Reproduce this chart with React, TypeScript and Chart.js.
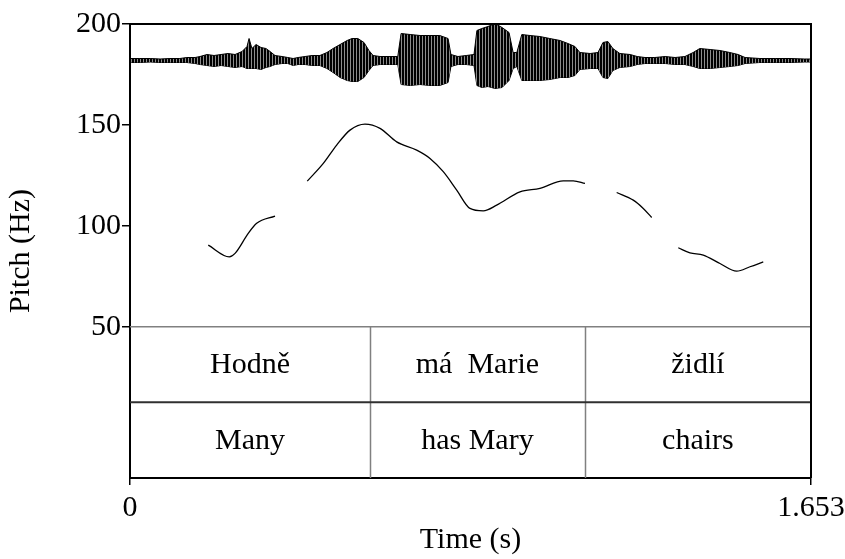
import React, { useEffect, useRef } from 'react';
import { Chart, registerables } from 'chart.js';

Chart.register(...registerables);

// ---- data ----
const TIME_MAX = 1.653;
const yTickValues = [50, 100, 150, 200];
const xTickValues = [0, 1.653];
const xTickLabels = ['0', '1.653'];
const tierBoundaries = [0.5825, 1.104];
const tier1Labels = ['Hodně', 'má  Marie', 'židlí'];
const tier2Labels = ['Many', 'has Mary', 'chairs'];

// pitch contour (s, Hz); null = unvoiced gap
const pitchTimes = [
  0.190, 0.241, 0.255, 0.287, 0.3075, 0.352,
  0.39,
  0.4303, 0.4692, 0.5017, 0.534, 0.5704, 0.6068, 0.6473, 0.6959, 0.7282, 0.7604, 0.793, 0.8252, 0.8575, 0.89, 0.9466, 0.9951, 1.0517, 1.076, 1.1044,
  1.14,
  1.1813, 1.2216, 1.2459, 1.2663,
  1.30,
  1.3308, 1.3592, 1.3915, 1.432, 1.4726, 1.5049, 1.5371,
];
const pitchHz: (number | null)[] = [
  90.4, 84.6, 86.3, 96.2, 101.2, 104.8,
  null,
  122.1, 130.9, 140.0, 147.4, 150.4, 148.3, 141.6, 137.5, 133.4, 126.8, 117.7, 108.6, 107.4, 110.2, 116.8, 118.5, 122.3, 122.3, 121.0,
  null,
  116.5, 112.7, 108.6, 104.1,
  null,
  89.1, 86.6, 85.5, 81.3, 77.5, 79.7, 82.1,
];

// waveform envelope (s, relative amplitude above / below zero)
const waveTimes = [
  0, 0.024, 0.049, 0.073, 0.097, 0.121, 0.138, 0.158, 0.170, 0.187,
  0.204, 0.221, 0.238, 0.255, 0.272, 0.284, 0.289, 0.296, 0.306, 0.318,
  0.330, 0.340, 0.352, 0.369, 0.383, 0.396, 0.408, 0.425, 0.442, 0.461,
  0.478, 0.493, 0.510, 0.527, 0.539, 0.553, 0.568, 0.580, 0.590, 0.607,
  0.631, 0.650, 0.658, 0.680, 0.704, 0.728, 0.752, 0.772, 0.779, 0.796,
  0.816, 0.835, 0.842, 0.854, 0.869, 0.886, 0.903, 0.920, 0.930, 0.939,
  0.951, 0.971, 0.995, 1.019, 1.044, 1.063, 1.080, 1.092, 1.117, 1.136,
  1.148, 1.160, 1.172, 1.189, 1.214, 1.231, 1.250, 1.274, 1.299, 1.323,
  1.347, 1.367, 1.383, 1.408, 1.432, 1.456, 1.476, 1.493, 1.529, 1.566,
  1.602, 1.638, 1.653,
];
const waveUpper = [
  2, 2, 2, 1.5, 2, 2, 3, 3, 4, 6,
  5, 6, 7, 6, 9, 14, 22, 12, 16, 13,
  12, 9, 5, 4, 3, 2, 3, 4, 5, 5,
  8, 12, 16, 20, 22, 22, 18, 10, 5, 4,
  4, 4, 27, 26, 25, 25, 25, 22, 6, 4,
  5, 6, 30, 32, 34, 37, 33, 28, 8, 8,
  26, 25, 24, 22, 20, 17, 14, 8, 7, 8,
  18, 19, 12, 7, 6, 4, 3, 3, 4, 3,
  4, 8, 12, 11, 10, 8, 6, 3, 2, 2,
  2, 1.5, 1.5,
];
const waveLower = [
  2, 2, 1.5, 2, 2, 2, 2, 3, 4, 5,
  6, 5, 6, 7, 6, 8, 8, 8, 8, 9,
  7, 6, 4, 3, 3, 5, 4, 4, 5, 5,
  8, 12, 17, 20, 21, 21, 17, 10, 5, 4,
  4, 4, 24, 25, 24, 25, 25, 22, 6, 4,
  4, 5, 25, 27, 26, 28, 27, 20, 8, 6,
  20, 20, 20, 19, 17, 17, 15, 9, 8, 8,
  17, 18, 10, 7, 6, 4, 3, 3, 3, 4,
  4, 6, 8, 8, 7, 6, 5, 3, 2, 2,
  2, 1.5, 1.5,
];

const FONT = '"Liberation Serif", "Times New Roman", serif';
const FS = 30;

function stripePattern(): CanvasPattern | string {
  const c = document.createElement('canvas');
  c.width = 3;
  c.height = 1;
  const g = c.getContext('2d');
  if (!g) return '#000';
  g.fillStyle = '#000';
  g.fillRect(0, 0, 3, 1);
  g.fillStyle = 'rgba(255,255,255,0.55)';
  g.fillRect(2, 0, 1, 1);
  return g.createPattern(c, 'repeat') || '#000';
}

const framePlugin = {
  id: 'praatFrame',
  afterDatasetsDraw(chart: any) {
    const { ctx, chartArea, scales } = chart;
    const xs = scales.x;
    const ys = scales.y;
    const { left, right, top, bottom } = chartArea;
    const y50 = ys.getPixelForValue(50);
    const yMid = ys.getPixelForValue(12.5);
    ctx.save();
    ctx.strokeStyle = '#808080';
    ctx.lineWidth = 1.5;
    ctx.beginPath();
    ctx.moveTo(left, y50);
    ctx.lineTo(right, y50);
    tierBoundaries.forEach((t) => {
      const px = Math.round(xs.getPixelForValue(t)) + 0.5;
      ctx.moveTo(px, y50);
      ctx.lineTo(px, bottom);
    });
    ctx.stroke();
    ctx.strokeStyle = '#303030';
    ctx.lineWidth = 2;
    ctx.beginPath();
    ctx.moveTo(left, yMid);
    ctx.lineTo(right, yMid);
    ctx.stroke();
    ctx.strokeStyle = '#000';
    ctx.lineWidth = 2;
    ctx.beginPath();
    ctx.moveTo(left, top);
    ctx.lineTo(right, top);
    ctx.lineTo(right, bottom);
    ctx.stroke();
    ctx.fillStyle = '#000';
    ctx.font = `${FS}px ${FONT}`;
    ctx.textAlign = 'center';
    ctx.textBaseline = 'middle';
    const bounds = [0, ...tierBoundaries, TIME_MAX];
    const yT1 = (y50 + yMid) / 2 + 1;
    const yT2 = (yMid + bottom) / 2 + 1;
    for (let i = 0; i < 3; i++) {
      const cx = (xs.getPixelForValue(bounds[i]) + xs.getPixelForValue(bounds[i + 1])) / 2;
      ctx.fillText(tier1Labels[i], cx, yT1);
      ctx.fillText(tier2Labels[i], cx, yT2);
    }
    ctx.restore();
  },
};

export default function App() {
  const ref = useRef<HTMLCanvasElement | null>(null);
  useEffect(() => {
    document.body.style.margin = '0';
    if (!ref.current) return;
    const pattern = stripePattern();
    const chart = new Chart(ref.current, {
      type: 'line',
      data: {
        datasets: [
          {
            label: 'wave+',
            data: waveTimes.map((t, i) => ({ x: t, y: waveUpper[i] })),
            yAxisID: 'wave',
            borderColor: '#000',
            backgroundColor: pattern,
            borderWidth: 1,
            pointRadius: 0,
            tension: 0,
            fill: '+1',
          },
          {
            label: 'wave-',
            data: waveTimes.map((t, i) => ({ x: t, y: -waveLower[i] })),
            yAxisID: 'wave',
            borderColor: '#000',
            backgroundColor: '#000',
            borderWidth: 1,
            pointRadius: 0,
            tension: 0,
            fill: false,
          },
          {
            label: 'pitch',
            data: pitchTimes.map((t, i) => ({ x: t, y: pitchHz[i] })),
            yAxisID: 'y',
            borderColor: '#000',
            borderWidth: 1.3,
            pointRadius: 0,
            cubicInterpolationMode: 'monotone',
            spanGaps: false,
            fill: false,
          },
        ],
      },
      options: {
        animation: false,
        responsive: false,
        layout: { padding: { top: 24, right: 34, left: 0, bottom: 0 } },
        plugins: { legend: { display: false }, tooltip: { enabled: false } },
        scales: {
          x: {
            type: 'linear',
            min: 0,
            max: TIME_MAX,
            afterBuildTicks: (s: any) => {
              s.ticks = xTickValues.map((v) => ({ value: v }));
            },
            afterFit: (s: any) => {
              s.height = 81;
              s.paddingLeft = 0;
              s.paddingRight = 0;
            },
            ticks: {
              autoSkip: false,
              maxRotation: 0,
              padding: 5,
              color: '#000',
              font: { family: FONT, size: FS },
              callback: (v: any) => {
                const i = xTickValues.indexOf(Number(v));
                return i >= 0 ? xTickLabels[i] : '';
              },
            },
            grid: { drawOnChartArea: false, tickLength: 7, color: '#000', lineWidth: 1.5 },
            border: { display: true, color: '#000', width: 2 },
            title: {
              display: true,
              text: 'Time (s)',
              color: '#000',
              font: { family: FONT, size: FS },
              padding: { top: 0, bottom: 1 },
            },
          },
          y: {
            type: 'linear',
            position: 'left',
            min: -25,
            max: 200,
            afterBuildTicks: (s: any) => {
              s.ticks = yTickValues.map((v) => ({ value: v }));
            },
            afterFit: (s: any) => {
              s.width = 130;
            },
            ticks: {
              autoSkip: false,
              padding: 1,
              color: '#000',
              font: { family: FONT, size: FS },
            },
            grid: { drawOnChartArea: false, tickLength: 8, color: '#000', lineWidth: 1.5 },
            border: { display: true, color: '#000', width: 2 },
            title: {
              display: true,
              text: 'Pitch (Hz)',
              color: '#000',
              font: { family: FONT, size: FS },
              padding: { top: 3, bottom: 0 },
            },
          },
          wave: {
            type: 'linear',
            display: false,
            min: -417.5,
            max: 36.5,
          },
        },
      },
      plugins: [framePlugin],
    });
    return () => chart.destroy();
  }, []);
  return (
    <div style={{ width: 845, height: 559 }}>
      <canvas ref={ref} width={845} height={559} />
    </div>
  );
}
